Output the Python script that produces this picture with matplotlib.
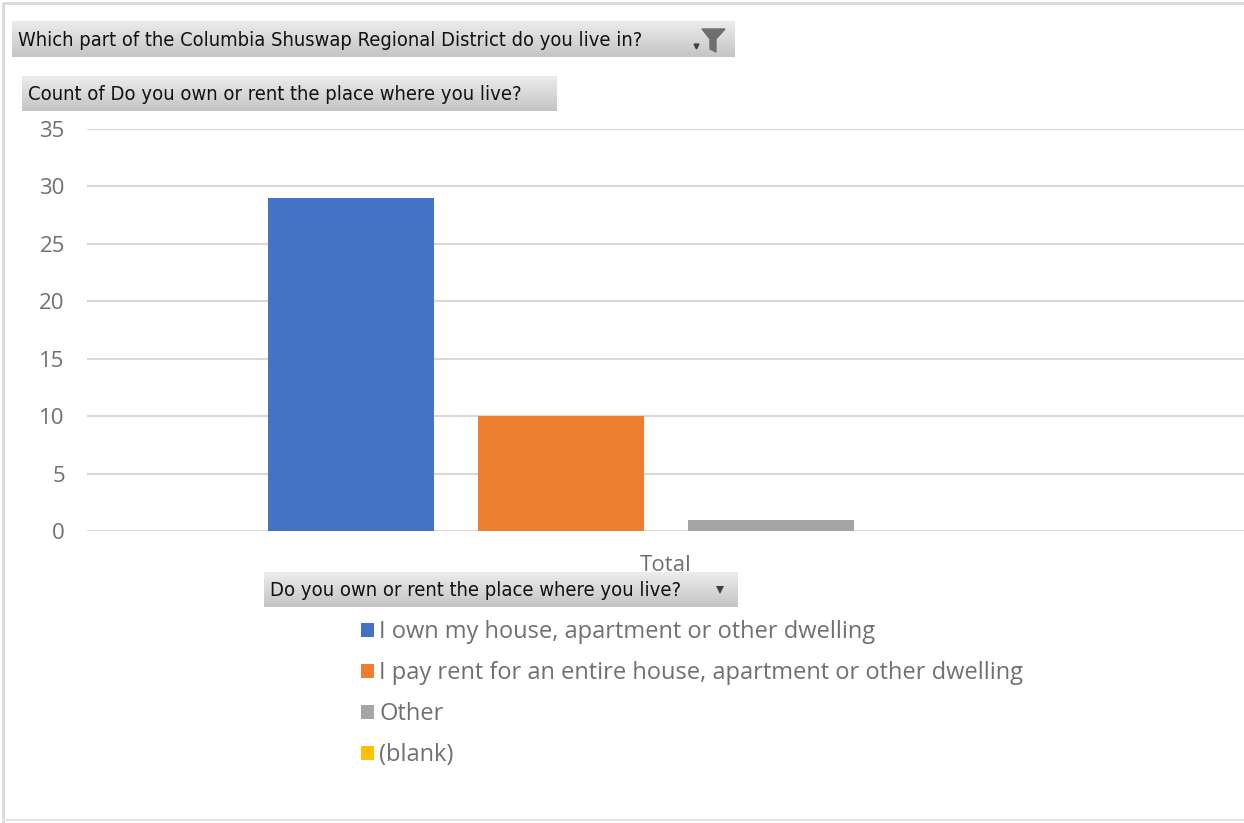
import matplotlib
matplotlib.use("Agg")
from matplotlib import pyplot as plt
from matplotlib.colors import LinearSegmentedColormap
from matplotlib.patches import Polygon
import numpy as np

W, H = 1244, 823

category = "Total"
answers = ["I own my house, apartment or other dwelling",
           "I pay rent for an entire house, apartment or other dwelling",
           "Other",
           "(blank)"]
counts = [29, 10, 1, 0]
colors = ["#4472C4", "#ED7D31", "#A5A5A5", "#FFC000"]
yticks = [0, 5, 10, 15, 20, 25, 30, 35]

filter_field = "Which part of the Columbia Shuswap Regional District do you live in?"
value_field = "Count of Do you own or rent the place where you live?"
axis_field = "Do you own or rent the place where you live?"

label_font = ["Open Sans", "DejaVu Sans"]
button_font = dict(family=["DejaVu Sans"], stretch="condensed")

fig = plt.figure(figsize=(W / 100, H / 100), dpi=100)
renderer = fig.canvas.get_renderer()


def px(x0, y0, x1, y1):
    # pixel box (top-left origin) -> figure rect
    return [x0 / W, 1 - y1 / H, (x1 - x0) / W, (y1 - y0) / H]


# outer frame of the chart object
frame = fig.add_axes([0, 0, 1, 1], zorder=-5)
frame.set_xlim(0, W)
frame.set_ylim(H, 0)
frame.axis("off")
frame.plot([3, 3, W + 5], [H + 5, 3, 3], color="#d9d9d9", lw=2)
frame.plot([3, W + 5], [820, 820], color="#e6e6e6", lw=1.5)

# main plot area
ax = fig.add_axes(px(87, 129, 1245, 531))
step = 0.3627
width = 0.285
pos = (np.arange(len(counts)) - (len(counts) - 1) / 2) * step
for p, c, col, lab in zip(pos, counts, colors, answers):
    ax.bar(p, c, width=width, color=col, label=lab, zorder=3)

ax.set_xlim(-1, 1)
ax.set_ylim(0, 35)
ax.set_yticks(yticks)
ax.set_xticks([0])
ax.set_xticklabels([category])
ax.grid(axis="y", color="#d9d9d9", lw=1.5, zorder=0)
for s in ax.spines.values():
    s.set_visible(False)
ax.tick_params(length=0, labelsize=16)
ax.tick_params(axis="y", pad=16)
ax.tick_params(axis="x", pad=17)
for t in ax.get_yticklabels() + ax.get_xticklabels():
    t.set_fontfamily(label_font)
    t.set_color("#707070")

grad = LinearSegmentedColormap.from_list("btn", ["#ececec", "#c4c4c4"])


def field_button(box, text, text_width, icon):
    bax = fig.add_axes(px(*box), zorder=5)
    bax.imshow(np.linspace(0, 1, 64).reshape(-1, 1), cmap=grad, aspect="auto",
               extent=[0, 1, 0, 1])
    bax.set_xlim(0, 1)
    bax.set_ylim(0, 1)
    bax.axis("off")
    bw = box[2] - box[0]
    bh = box[3] - box[1]
    t = bax.text(6 / bw, 0.47, text, va="center", ha="left", fontsize=14,
                 color="#111111", **button_font)
    # shrink/grow the label so it spans the wanted width
    w = t.get_window_extent(renderer).width
    t.set_fontsize(14 * text_width / w)
    fx = lambda x: (x - box[0]) / bw
    fy = lambda y: 1 - (y - box[1]) / bh
    if icon == "funnel":
        funnel = [(702, 29), (725, 29), (716, 39), (716, 52), (710, 49), (710, 39)]
        bax.add_patch(Polygon([(fx(x), fy(y)) for x, y in funnel],
                              closed=True, color="#6e6e6e"))
        bax.plot([fx(696)], [fy(46)], marker="v", ms=3.5, color="#404040")
    elif icon == "arrow":
        bax.plot([fx(720)], [0.5], marker="v", ms=6, color="#404040",
                 markeredgewidth=0)


field_button((12, 21, 735, 57), filter_field, 627, "funnel")
field_button((22, 76, 557, 111), value_field, 497, None)
field_button((264, 572, 738, 607), axis_field, 414, "arrow")

handles, labels = ax.get_legend_handles_labels()
leg = fig.legend(handles, labels, loc="upper left",
                 bbox_to_anchor=(352 / W, 1 - 611 / H), frameon=False,
                 handlelength=0.55, handleheight=0.55, handletextpad=0.2,
                 labelspacing=0.72, borderaxespad=0,
                 prop=dict(family=label_font, size=17))
for t in leg.get_texts():
    t.set_color("#707070")

fig.savefig("out.png", dpi=100)
